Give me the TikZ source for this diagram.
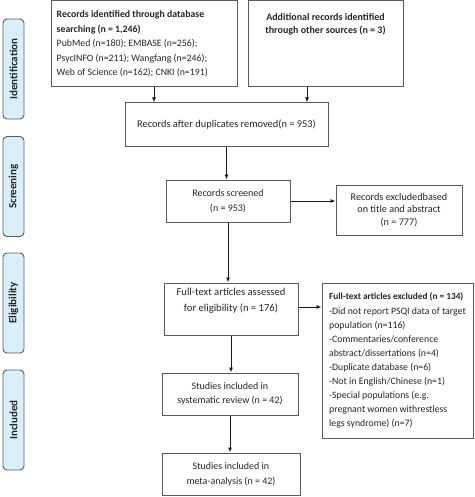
\documentclass[tikz,border=0pt]{standalone}
\usepackage{fontspec}
\setmainfont{Carlito}
\usetikzlibrary{arrows.meta,shadows}
\definecolor{txt}{HTML}{262626}
\definecolor{edge}{HTML}{5A5A5A}
\definecolor{lblfill}{HTML}{D9F0FB}
\begin{document}
\begin{tikzpicture}[x=1pt,y=-1pt,
 box/.style={draw=edge,line width=1pt,inner sep=0pt,text=txt,align=center},
 plain/.style={inner sep=0pt,text=txt},
 side/.style={draw=edge,fill=lblfill,rounded corners=4pt,line width=0.9pt,rotate=90,minimum width=100pt,minimum height=21pt,inner sep=0pt,font=\bfseries\fontsize{11}{12}\selectfont,text=txt},
 arr/.style={draw=black!90,line width=0.9pt,-{Latex[length=5pt,width=4pt]}}]
\useasboundingbox (0,0) rectangle (474,497);
% side labels
\node[side] (lid) at (13.5,69) {Identification};
\node[side] (lsc) at (13.5,186.5) {Screening};
\node[side] (lel) at (13.5,303) {Eligibility};
\node[side] (lin) at (13.5,420) {Included};
% boxes
\node[box,minimum width=186pt,minimum height=86pt] (b1) at (144,44) {};
\node[plain,anchor=west,align=left,font=\fontsize{9.8}{14.5}\selectfont] (b1t) at ([xshift=6pt]b1.west)
 {{\bfseries Records identified through database}\\{\bfseries searching (n = 1,246)}\\PubMed (n=180); EMBASE (n=256);\\PsycINFO (n=211); Wangfang (n=246);\\Web of Science (n=162); CNKI (n=191)};
\node[box,minimum width=155pt,minimum height=86pt] (b2) at (325.5,44) {};
\node[plain,anchor=north,align=center,font=\bfseries\fontsize{10}{12.5}\selectfont] (b2t) at ([yshift=-13pt]b2.north)
 {Additional records identified\\through other sources (n = 3)};
\node[box,minimum width=203pt,minimum height=44pt,font=\fontsize{10.4}{14}\selectfont] (dup) at (226.5,125) {Records after duplicates removed(n = 953)};
\node[box,minimum width=124pt,minimum height=42pt,font=\fontsize{10}{15}\selectfont] (scr) at (228,201) {Records screened\\(n = 953)};
\node[box,minimum width=126pt,minimum height=50pt,font=\fontsize{10.2}{12.5}\selectfont] (ex1) at (399,210) {Records excludedbased\\on title and abstract\\(n = 777)};
\node[box,minimum width=134pt,minimum height=52pt,font=\fontsize{10.6}{15.5}\selectfont] (ft) at (231,309) {Full-text articles assessed\\for eligibility (n = 176)\\[3pt]};
\node[box,minimum width=151pt,minimum height=155pt,align=left,font=\fontsize{9.8}{14}\selectfont,
 drop shadow={shadow xshift=1pt,shadow yshift=-1pt,fill=black!45,opacity=0.8},fill=white] (ex2) at (397.5,360.5)
 {{\bfseries\fontsize{9.3}{14}\selectfont Full-text articles excluded (n = 134)}\\[1.5pt]-Did not report PSQI data of target\\population (n=116)\\-Commentaries/conference\\abstract/dissertations (n=4)\\-Duplicate database (n=6)\\-Not in English/Chinese (n=1)\\-Special populations (e.g.\\pregnant women withrestless\\legs syndrome) (n=7)};
\node[box,minimum width=136pt,minimum height=42pt,font=\fontsize{10}{14}\selectfont] (sys) at (230,394) {Studies included in\\systematic review (n = 42)};
\node[box,minimum width=138pt,minimum height=42pt,font=\fontsize{10}{15}\selectfont] (meta) at (231,474) {Studies included in\\meta-analysis (n = 42)};
% arrows
\coordinate (a1) at (154,0);
\coordinate (a2) at (307,0);
\draw[arr] (b1.south -| a1) -- (dup.north -| a1);
\draw[arr] (b2.south -| a2) -- (dup.north -| a2);
\draw[arr] (dup.south) -- (dup.south |- scr.north);
\draw[arr] (scr.east) -- (scr.east -| ex1.west);
\draw[arr] (scr.south) -- (scr.south |- ft.north);
\draw[arr] ([yshift=2pt]ft.east) -- ([yshift=2pt]ft.east -| ex2.west);
\draw[arr] (ft.south) -- (ft.south |- sys.north);
\draw[arr] (sys.south) -- (sys.south |- meta.north);
\end{tikzpicture}
\end{document}
